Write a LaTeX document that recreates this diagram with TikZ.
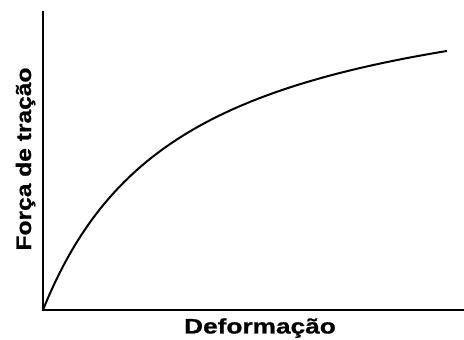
\documentclass[tikz,border=0pt]{standalone}
\usepackage{fontspec}
\setmainfont{Liberation Sans}
\newfontfamily\labfont{Liberation Sans}[BoldFeatures={FakeBold=0.8}]
\begin{document}
\begin{tikzpicture}[x=1pt,y=1pt,
  axis/.style={line width=2pt},
  curve/.style={line width=2pt},
  lab/.style={font=\labfont\fontsize{21}{24}\selectfont\bfseries, inner sep=0pt, anchor=base}]
\useasboundingbox (0,0) rectangle (464,340);
\coordinate (o) at (43,30);
\coordinate (ytop) at (43,329);
\coordinate (xend) at (464,30);
\draw[axis] (ytop) -- (o) -- (xend);
\draw[curve, shift={(o)}] plot[domain=0:404, samples=120, smooth] (\x, {348.8*(\x/(140+\x))});
\node[lab] (xl) at (260,6.5) {\scalebox{1.25}[1]{Deformação}};
\node[lab, rotate=90] (yl) at (31,181) {\scalebox{1.17}[1]{Força de tração}};
\end{tikzpicture}
\end{document}
